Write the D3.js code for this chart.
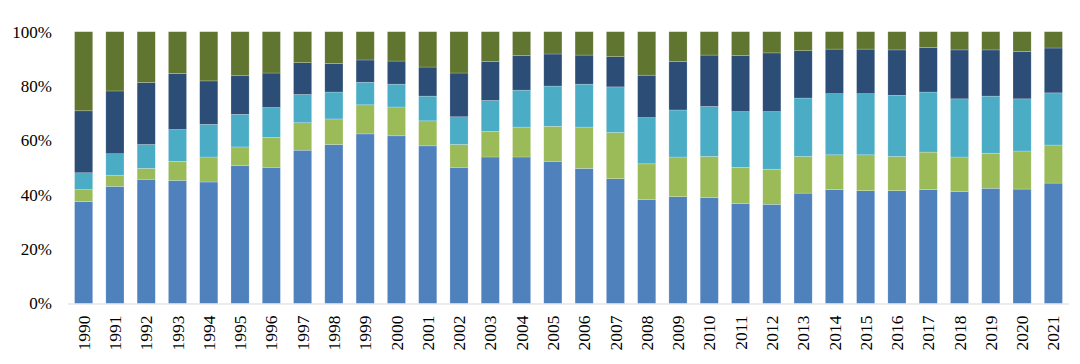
<!DOCTYPE html>
<html>
<head>
<meta charset="utf-8">
<script src="https://cdn.jsdelivr.net/npm/d3@7"></script>
<style>
  body { margin: 0; background: #fff; }
  text { font-family: "Liberation Serif", "Times New Roman", serif; fill: #000; }
</style>
</head>
<body>
<div id="chart"></div>
<script>
// data (share of total, %)
var years = ["1990","1991","1992","1993","1994","1995","1996","1997","1998","1999","2000",
  "2001","2002","2003","2004","2005","2006","2007","2008","2009","2010","2011","2012",
  "2013","2014","2015","2016","2017","2018","2019","2020","2021"];

var seriesA = [37.5,43.1,45.7,45.3,44.7,50.8,50.1,56.4,58.5,62.4,61.7,58.0,50.1,53.9,53.9,52.3,
  49.7,45.9,38.3,39.3,39.0,36.8,36.5,40.6,41.9,41.5,41.5,41.9,41.2,42.4,42.1,44.3];
var seriesB = [4.4,4.1,4.0,7.0,9.2,6.8,11.0,10.1,9.4,10.7,10.6,9.2,8.4,9.4,11.0,12.9,
  15.2,17.0,13.1,14.6,15.1,13.3,12.9,13.5,12.8,13.2,12.6,13.8,12.7,12.9,14.0,14.0];
var seriesC = [6.2,7.9,8.8,11.7,12.0,12.0,11.0,10.4,9.9,8.3,8.4,9.1,10.2,11.4,13.6,14.8,
  15.8,16.8,17.0,17.3,18.4,20.5,21.2,21.5,22.5,22.5,22.5,22.1,21.4,21.0,19.2,19.2];
var seriesD = [22.8,23.1,22.8,20.6,16.0,14.2,12.7,11.7,10.5,8.2,8.5,10.7,16.1,14.3,12.7,11.8,
  10.7,11.1,15.6,17.8,18.9,20.6,21.6,17.4,16.4,16.4,16.7,16.4,18.0,17.0,17.4,16.5];
var seriesE = [29.1,21.8,18.7,15.4,18.1,16.2,15.2,11.4,11.7,10.4,10.8,13.0,15.2,11.0,8.8,8.2,
  8.6,9.2,16.0,11.0,8.6,8.8,7.8,7.0,6.4,6.4,6.7,5.8,6.7,6.7,7.3,6.0];

var yTicks = [0, 20, 40, 60, 80, 100];

var keys = ["a","b","c","d","e"];
var colors = ["#4F81BD","#9BBB59","#4BACC6","#2C4D75","#5F7530"];

var svgWidth = 1080, svgHeight = 364;
var margin = { top: 31.7, right: 11, bottom: 60.5, left: 68 };
var width = svgWidth - margin.left - margin.right;
var height = svgHeight - margin.top - margin.bottom;

var svg = d3.select("#chart").append("svg")
  .attr("width", svgWidth)
  .attr("height", svgHeight);
var chartGroup = svg.append("g")
  .attr("transform", `translate(${margin.left}, ${margin.top})`);

// build table for the stack
var table = years.map(function(y, i) {
  var tot = seriesA[i] + seriesB[i] + seriesC[i] + seriesD[i] + seriesE[i];
  return { year: y, a: seriesA[i]/tot, b: seriesB[i]/tot, c: seriesC[i]/tot, d: seriesD[i]/tot, e: seriesE[i]/tot };
});
var stacked = d3.stack().keys(keys)(table);

var x = d3.scaleBand().domain(years).range([0, width]).paddingInner(0.42).paddingOuter(0.21);
var y = d3.scaleLinear().domain([0, 1]).range([height, 0]);

chartGroup.selectAll("g.layer")
  .data(stacked)
  .enter()
  .append("g")
  .attr("class", "layer")
  .attr("fill", (d, i) => colors[i])
  .selectAll("rect")
  .data(d => d)
  .enter()
  .append("rect")
  .attr("x", d => x(d.data.year))
  .attr("width", x.bandwidth())
  .attr("y", d => y(d[1]))
  .attr("height", d => y(d[0]) - y(d[1]))
  .attr("stroke", "#ffffff")
  .attr("stroke-opacity", 0.35)
  .attr("stroke-width", 0.6);

// x axis line
chartGroup.append("line")
  .attr("x1", 0).attr("x2", width)
  .attr("y1", height + 0.5).attr("y2", height + 0.5)
  .attr("stroke", "#D9D9D9")
  .attr("stroke-width", 1);

// y tick labels
chartGroup.selectAll("text.ylab")
  .data(yTicks)
  .enter()
  .append("text")
  .attr("class", "ylab")
  .attr("x", -16)
  .attr("y", d => y(d / 100))
  .attr("dy", "0.35em")
  .attr("text-anchor", "end")
  .style("font-size", "17px")
  .text(d => d + "%");

// x labels, rotated
chartGroup.selectAll("text.xlab")
  .data(years)
  .enter()
  .append("text")
  .attr("class", "xlab")
  .attr("transform", d => `translate(${x(d) + x.bandwidth() / 2}, ${height + 12}) rotate(-90)`)
  .attr("dy", "0.35em")
  .attr("text-anchor", "end")
  .style("font-size", "17.5px")
  .text(d => d);
</script>
</body>
</html>
